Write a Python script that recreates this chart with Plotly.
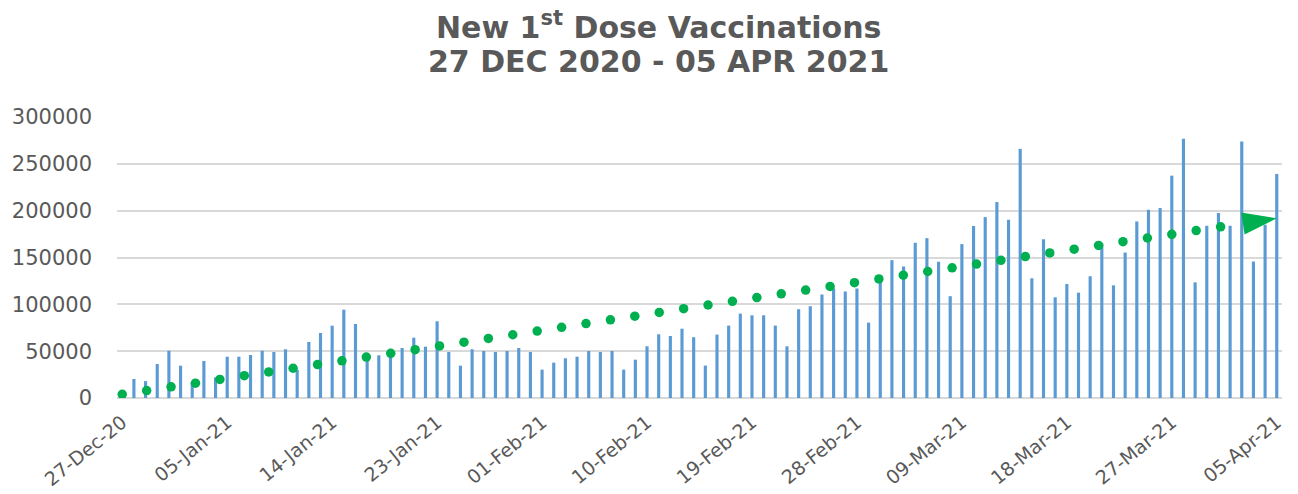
import numpy as np
import pandas as pd
import plotly.graph_objects as go

# ---- data -----------------------------------------------------------
dates = pd.date_range("2020-12-27", "2021-04-05", freq="D")
date_labels = [d.strftime("%d-%b-%y") for d in dates]

first_doses = [
    5000, 20300, 18000, 36300, 50500, 34500, 17000, 39500, 22000, 44100,
    44100, 45900, 50500, 49100, 52000, 30000, 59800, 69400, 77200, 94300,
    79000, 43000, 45600, 50000, 53400, 64400, 54800, 81900, 49100, 34500,
    52000, 50200, 49100, 50200, 53400, 49100, 30300, 37700, 42400, 44100,
    50200, 49100, 50200, 30300, 40900, 55200, 68000, 66200, 74000, 64900,
    34600, 67700, 77300, 90100, 88300, 88300, 77300, 55200, 94800, 98000,
    110500, 117000, 113700, 116900, 80500, 125000, 147200, 140400, 165700, 170700,
    145400, 108700, 164300, 183700, 193100, 209200, 190300, 266000, 127800, 169600,
    107500, 121700, 112500, 130000, 165000, 120300, 155300, 188500, 201000, 202800,
    237400, 276700, 123500, 183900, 197400, 183900, 273800, 145700, 185000, 239200,
]

tick_labels = ["27-Dec-20", "05-Jan-21", "14-Jan-21", "23-Jan-21", "01-Feb-21",
               "10-Feb-21", "19-Feb-21", "28-Feb-21", "09-Mar-21", "18-Mar-21",
               "27-Mar-21", "05-Apr-21"]
y_ticks = [0, 50000, 100000, 150000, 200000, 250000, 300000]

title_line1 = "New 1<sup>st</sup> Dose Vaccinations"
title_line2 = "27 DEC 2020 - 05 APR 2021"

# ---- derived --------------------------------------------------------
idx = np.arange(len(first_doses))
tick_pos = [date_labels.index(t) for t in tick_labels]

# linear trendline (least squares, like Excel)
slope, intercept = np.polyfit(idx, np.array(first_doses, dtype=float), 1)
DOT_STEP = 2.093          # spacing of the round dots in days
dot_x = np.arange(0, idx[-1] - 4.5, DOT_STEP)
dot_y = intercept + slope * dot_x
end_x = idx[-1]
prev_x = end_x - 1

BLUE = "#5B9BD5"
GREEN = "#00B050"
GREY = "#595959"
FONT = "DejaVu Sans"

fig = go.Figure()
fig.add_trace(go.Bar(
    x=idx, y=first_doses, width=0.27,
    marker=dict(color=BLUE, line=dict(width=0)),
    hovertext=date_labels, name="New 1st doses",
))
fig.add_trace(go.Scatter(
    x=dot_x, y=dot_y, mode="markers",
    marker=dict(color=GREEN, size=9.5, line=dict(width=0), opacity=1),
    hoverinfo="skip", name="Trend",
))
fig.add_trace(go.Scatter(
    x=[prev_x, end_x],
    y=[intercept + slope * prev_x, intercept + slope * end_x],
    mode="markers",
    marker=dict(symbol="arrow", angleref="previous", size=[1, 36],
                color=GREEN, line=dict(width=0), opacity=1),
    hoverinfo="skip", name="Trend end",
))

fig.update_layout(
    width=1290, height=486,
    paper_bgcolor="white", plot_bgcolor="white",
    showlegend=False,
    margin=dict(l=109, r=16, t=109, b=96),
    font=dict(family=FONT, color=GREY),
    annotations=[
        dict(text=title_line1, xref="paper", yref="paper", x=0.4648, y=1.325,
             xanchor="center", yanchor="middle", showarrow=False,
             font=dict(family=FONT, size=30, color=GREY, weight="bold")),
        dict(text=title_line2, xref="paper", yref="paper", x=0.4648, y=1.199,
             xanchor="center", yanchor="middle", showarrow=False,
             font=dict(family=FONT, size=30, color=GREY, weight="bold")),
    ],
)
fig.update_xaxes(
    range=[-0.45, 99.45],
    tickmode="array", tickvals=tick_pos, ticktext=tick_labels,
    tickangle=-39, tickfont=dict(family=FONT, size=19, color=GREY),
    showgrid=False, showline=False, zeroline=False,
    ticks="outside", ticklen=5, tickcolor="rgba(0,0,0,0)",
    automargin=False,
)
fig.update_yaxes(
    range=[0, 300000],
    tickmode="array", tickvals=y_ticks, ticktext=[str(v) for v in y_ticks],
    tickfont=dict(family=FONT, size=21, color=GREY),
    showgrid=True, gridcolor="#D9D9D9", gridwidth=1.5,
    zeroline=True, zerolinecolor="#D9D9D9", zerolinewidth=1.5,
    showline=False, ticks="", ticklabelstandoff=24, automargin=False,
)

fig.write_html("out.html")
